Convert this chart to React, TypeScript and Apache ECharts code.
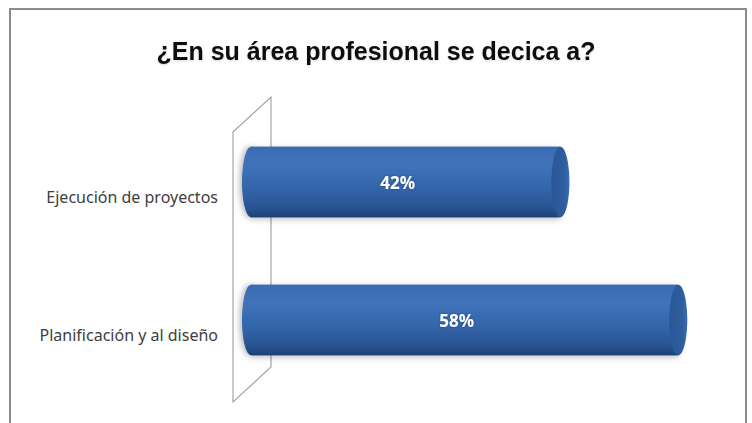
import React, { useEffect, useRef } from "react";
import * as echarts from "echarts";

const categories = ["Ejecución de proyectos", "Planificación y al diseño"];
const values = [42, 58];
const titleText = "¿En su área profesional se decica a?";

export default function App() {
  const ref = useRef<HTMLDivElement>(null);
  useEffect(() => {
    if (!ref.current) return;
    const chart = echarts.init(ref.current, null, { renderer: "svg" });
    const data = values.map((v, i) => [v, i]);
    chart.setOption({
      animation: false,
      backgroundColor: "#ffffff",
      title: {
        text: titleText,
        left: "center",
        top: 33,
        textStyle: {
          fontFamily: "Liberation Sans, Arial, sans-serif",
          fontWeight: "bold",
          fontSize: 25,
          color: "#111111",
          textShadowColor: "rgba(0,0,0,0.15)",
          textShadowBlur: 2,
          textShadowOffsetY: 1,
        },
      },
      graphic: [
        {
          type: "rect",
          z: 0,
          shape: { x: 10, y: 9, width: 736, height: 440 },
          style: { fill: "none", stroke: "#8c8c8c", lineWidth: 2 },
        },
        {
          type: "polygon",
          z: 0,
          shape: {
            points: [
              [233, 132],
              [271, 97],
              [271, 367],
              [233, 402],
            ],
          },
          style: { fill: "none", stroke: "#a6a6a6", lineWidth: 1.2 },
        },
      ],
      grid: { left: 251, width: 442, top: 113, height: 276 },
      xAxis: {
        type: "value",
        min: 0,
        max: 60,
        show: false,
      },
      yAxis: {
        type: "category",
        data: categories,
        inverse: true,
        axisLine: { show: false },
        axisTick: { show: false },
        splitLine: { show: false },
        axisLabel: {
          margin: 33,
          fontFamily: "Noto Sans, Open Sans, sans-serif",
          fontSize: 16,
          color: "#404040",
          verticalAlign: "top",
          lineHeight: 30,
        },
      },
      series: [
        {
          type: "custom",
          z: 10,
          data,
          renderItem: (params: any, api: any) => {
            const v = api.value(0);
            const cat = api.value(1);
            const p0 = api.coord([0, cat]);
            const p1 = api.coord([v, cat]);
            const h = api.size([0, 1])[1] * 0.51;
            const rx = 9;
            const body = new echarts.graphic.LinearGradient(0, 0, 0, 1, [
              { offset: 0, color: "#3a6cb2" },
              { offset: 0.25, color: "#3f73ba" },
              { offset: 0.6, color: "#3365aa" },
              { offset: 0.88, color: "#27528f" },
              { offset: 1, color: "#1c4177" },
            ]);
            const cap = new echarts.graphic.LinearGradient(0, 0, 1, 0, [
              { offset: 0, color: "#2a5896" },
              { offset: 0.7, color: "#2d5d9d" },
              { offset: 1, color: "#3a6cb0" },
            ]);
            return {
              type: "group",
              children: [
                {
                  type: "rect",
                  shape: { x: p0[0], y: p0[1] - h / 2, width: p1[0] - p0[0], height: h },
                  style: {
                    fill: body,
                    shadowBlur: 6,
                    shadowColor: "rgba(0,0,0,0.25)",
                    shadowOffsetY: 2,
                  },
                },
                {
                  type: "ellipse",
                  shape: { cx: p0[0], cy: p0[1], rx, ry: h / 2 },
                  style: {
                    fill: body,
                    shadowBlur: 6,
                    shadowColor: "rgba(0,0,0,0.3)",
                    shadowOffsetX: -2,
                  },
                },
                {
                  type: "rect",
                  shape: { x: p0[0], y: p0[1] - h / 2, width: p1[0] - p0[0], height: h },
                  style: { fill: body },
                },
                {
                  type: "ellipse",
                  shape: { cx: p1[0], cy: p1[1], rx, ry: h / 2 },
                  style: { fill: cap },
                },
                {
                  type: "text",
                  style: {
                    text: v + "%",
                    x: (p0[0] + p1[0]) / 2 - 8,
                    y: p0[1],
                    align: "center",
                    verticalAlign: "middle",
                    fill: "#ffffff",
                    fontFamily: "Noto Sans, Open Sans, sans-serif",
                    fontWeight: "bold",
                    fontSize: 17,
                    textShadowColor: "rgba(0,0,0,0.4)",
                    textShadowBlur: 2,
                  },
                },
              ],
            };
          },
        },
      ],
    });
    return () => chart.dispose();
  }, []);
  return (
    <div
      ref={ref}
      style={{ position: "absolute", left: 0, top: 0, width: 752, height: 423 }}
    />
  );
}
